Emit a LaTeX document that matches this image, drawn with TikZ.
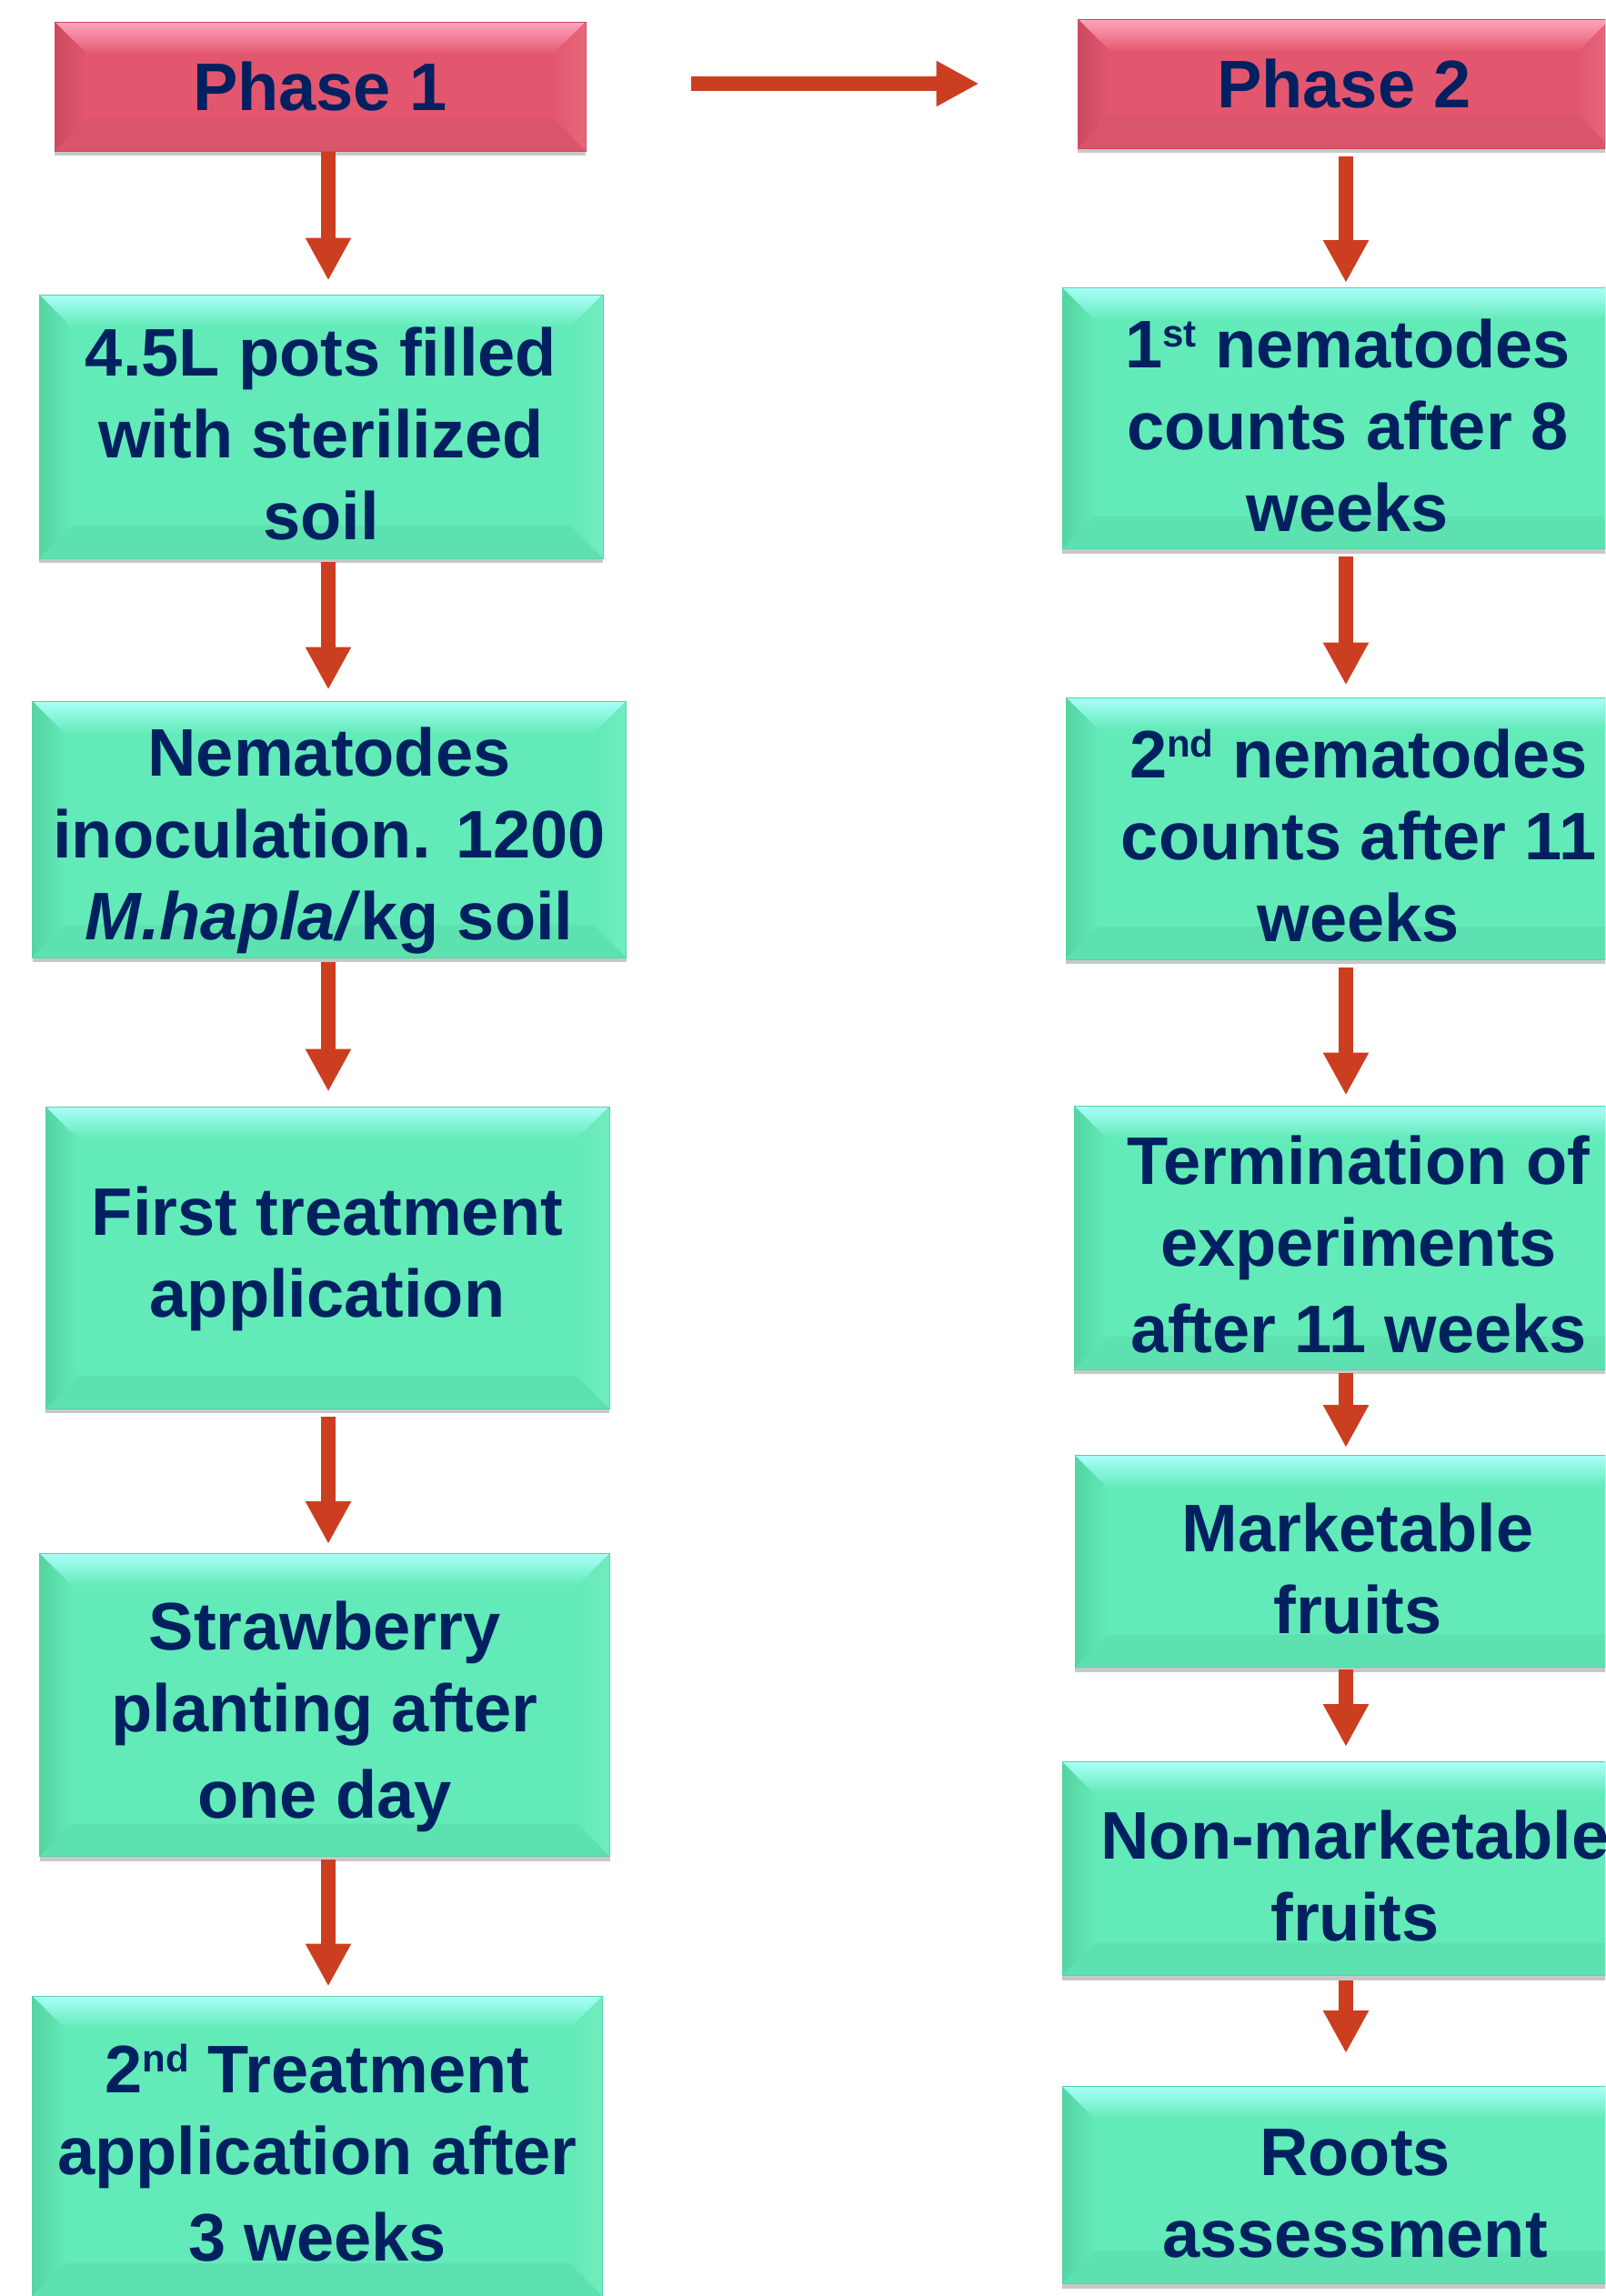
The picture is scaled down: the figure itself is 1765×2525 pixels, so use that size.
\documentclass[tikz,border=0pt]{standalone}
\usepackage{fontspec}
\setmainfont{Liberation Sans}
\usetikzlibrary{arrows.meta,calc,shadows}
\definecolor{navy}{RGB}{0,32,96}
\definecolor{arrowred}{RGB}{204,62,32}
\definecolor{gmain}{RGB}{98,234,184}
\definecolor{gmid}{RGB}{125,255,214}
\definecolor{glight}{RGB}{170,255,250}
\definecolor{gdark}{RGB}{84,212,162}
\definecolor{pmain}{RGB}{227,87,110}
\definecolor{pmid}{RGB}{255,120,144}
\definecolor{plight}{RGB}{255,165,190}
\definecolor{pdark}{RGB}{203,74,97}
\newcommand\bevelpaint[5]{%
  \path (path picture bounding box.north west) coordinate (bNW)
        (path picture bounding box.north east) coordinate (bNE)
        (path picture bounding box.south west) coordinate (bSW)
        (path picture bounding box.south east) coordinate (bSE);
  \fill[top color=#1, middle color=#2, bottom color=#3]
    (bNW) -- (bNE) -- ($(bNE)+(-#5,#5)$) -- ($(bNW)+(#5,#5)$) -- cycle;
  \fill[left color=#4, right color=#3]
    (bNW) -- ($(bNW)+(#5,#5)$) -- ($(bSW)+(#5,-#5)$) -- (bSW) -- cycle;
  \fill[left color=#3, right color=#3!90!white]
    (bNE) -- ($(bNE)+(-#5,#5)$) -- ($(bSE)+(-#5,-#5)$) -- (bSE) -- cycle;
  \fill[#3!96!black]
    (bSW) -- ($(bSW)+(#5,-#5)$) -- ($(bSE)+(-#5,-#5)$) -- (bSE) -- cycle;
}
\newcommand\supr[1]{\raisebox{23pt}{\fontsize{42}{42}\selectfont #1}}
\newcommand\lnstrut{\rule[-11pt]{0pt}{90pt}}
\tikzset{
  stepbase/.style={rectangle, inner sep=0pt, align=center, text=navy,
    font=\fontsize{74}{90}\selectfont\bfseries,
    drop shadow={shadow xshift=0pt, shadow yshift=-5pt, opacity=0.3, fill=black!70}},
  gbox/.style={stepbase, fill=gmain, draw=gdark, line width=1pt,
    path picture={\bevelpaint{glight}{gmid}{gmain}{gdark}{36}}},
  pbox/.style={stepbase, fill=pmain, draw=pdark, line width=1pt,
    path picture={\bevelpaint{plight}{pmid}{pmain}{pdark}{36}}},
  arr/.style={draw=arrowred, line width=16pt, -{Triangle[width=47pt,length=47pt]}}
}
\begin{document}
\begin{tikzpicture}[x=1pt,y=-1pt]
\useasboundingbox (0,0) rectangle (1765,2525);
\fill[white] (0,0) rectangle (1765,2525);
\clip (0,0) rectangle (1765,2525);

\coordinate (LX) at (361,0);
\coordinate (RX) at (1480,0);

% left column
\node[pbox, minimum width=584pt, minimum height=142pt] (P1) at (352,95) {Phase 1};
\node[gbox, minimum width=620pt, minimum height=290pt] (A) at (353,469)
  {\lnstrut 4.5L pots filled\\with sterilized\\soil\lnstrut};
\node[gbox, minimum width=653pt, minimum height=282pt] (B) at (362,912)
  {\lnstrut Nematodes\\inoculation. 1200\\\textit{M.hapla/}kg soil\lnstrut};
\node[gbox, minimum width=620pt, minimum height=332pt] (C) at (360,1383)
  {\lnstrut First treatment\\application\lnstrut\rule[-39pt]{0pt}{39pt}};
\node[gbox, minimum width=627pt, minimum height=333pt] (D) at (357,1875)
  {\lnstrut Strawberry\\planting after\\one day\lnstrut};
\node[gbox, minimum width=627pt, minimum height=330pt] (E) at (349,2360)
  {\lnstrut 2\supr{nd} Treatment\\application after\\3 weeks\lnstrut};

% right column
\node[pbox, minimum width=586pt, minimum height=142pt] (P2) at (1478,92) {Phase 2};
\node[gbox, minimum width=628pt, minimum height=287pt] (F) at (1482,460)
  {\lnstrut 1\supr{st} nematodes\\counts after 8\\weeks\lnstrut};
\node[gbox, minimum width=644pt, minimum height=288pt] (G) at (1494,911)
  {\lnstrut 2\supr{nd} nematodes\\counts after 11\\weeks\lnstrut};
\node[gbox, minimum width=626pt, minimum height=290pt] (H) at (1494,1361)
  {\lnstrut Termination of\\experiments\\after 11 weeks\lnstrut};
\node[gbox, minimum width=622pt, minimum height=233pt] (I) at (1493,1717)
  {\lnstrut Marketable\\fruits\lnstrut};
\node[gbox, minimum width=644pt, minimum height=235pt] (J) at (1490,2055)
  {\lnstrut Non-marketable\\fruits\lnstrut};
\node[gbox, minimum width=644pt, minimum height=217pt] (K) at (1490,2403)
  {\lnstrut Roots\\assessment\lnstrut};

% connectors
\draw[arr, shorten <=115pt, shorten >=108pt] (P1.east |- P2.west) -- (P2.west);

\draw[arr, shorten >=15pt] (P1.south -| LX) -- (A.north -| LX);
\draw[arr, shorten <=3pt, shorten >=12pt] (A.south -| LX) -- (B.north -| LX);
\draw[arr, shorten <=4pt, shorten >=16pt] (B.south -| LX) -- (C.north -| LX);
\draw[arr, shorten <=8pt, shorten >=10pt] (C.south -| LX) -- (D.north -| LX);
\draw[arr, shorten <=3pt, shorten >=10pt] (D.south -| LX) -- (E.north -| LX);

\draw[arr, shorten <=8pt, shorten >=5pt] (P2.south -| RX) -- (F.north -| RX);
\draw[arr, shorten <=8pt, shorten >=13pt] (F.south -| RX) -- (G.north -| RX);
\draw[arr, shorten <=8pt, shorten >=11pt] (G.south -| RX) -- (H.north -| RX);
\draw[arr, shorten <=3pt, shorten >=8pt] (H.south -| RX) -- (I.north -| RX);
\draw[arr, shorten <=2pt, shorten >=16pt] (I.south -| RX) -- (J.north -| RX);
\draw[arr, shorten <=5pt, shorten >=36pt] (J.south -| RX) -- (K.north -| RX);
\end{tikzpicture}
\end{document}
